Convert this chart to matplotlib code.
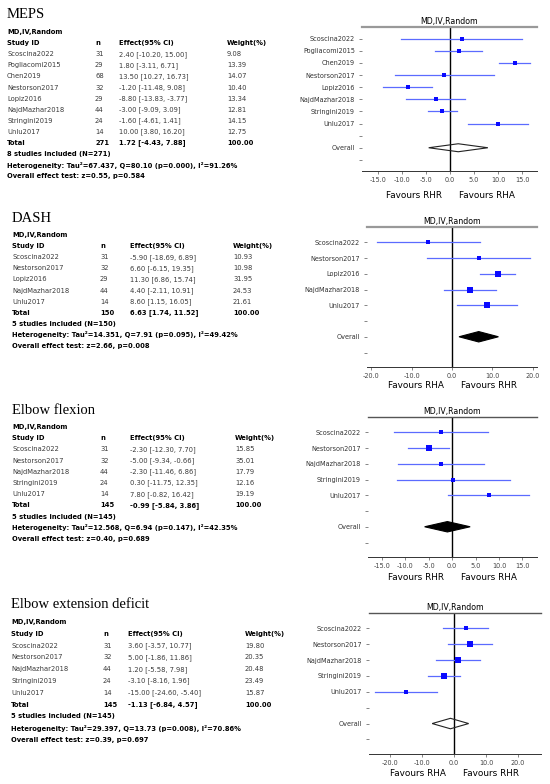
import matplotlib
matplotlib.use('Agg')

import numpy as np
import matplotlib.pyplot as plt
from matplotlib.patches import Polygon

plt.rcParams['axes.unicode_minus'] = False

W, H = 550, 784

# ---- MEPS ----
meps_study = ['Scoscina2022', 'Pogliacomi2015', 'Chen2019', 'Nestorson2017',
              'Lopiz2016', 'NajdMazhar2018', 'Stringini2019', 'Unlu2017']
meps_n = [31, 29, 68, 32, 29, 44, 24, 14]
meps_md = [2.40, 1.80, 13.50, -1.20, -8.80, -3.00, -1.60, 10.00]
meps_lo = [-10.20, -3.11, 10.27, -11.48, -13.83, -9.09, -4.61, 3.80]
meps_hi = [15.00, 6.71, 16.73, 9.08, -3.77, 3.09, 1.41, 16.20]
meps_w = [9.08, 13.39, 14.07, 10.40, 13.34, 12.81, 14.15, 12.75]
meps_total = [271, 1.72, -4.43, 7.88]      # N, MD, lower, upper
meps_het = ['67.437', '80.10', '0.000', '91.26']   # Tau2, Q, p, I2
meps_test = ['0.55', '0.584']               # z, p

# ---- DASH ----
dash_study = ['Scoscina2022', 'Nestorson2017', 'Lopiz2016', 'NajdMazhar2018', 'Unlu2017']
dash_n = [31, 32, 29, 44, 14]
dash_md = [-5.90, 6.60, 11.30, 4.40, 8.60]
dash_lo = [-18.69, -6.15, 6.86, -2.11, 1.15]
dash_hi = [6.89, 19.35, 15.74, 10.91, 16.05]
dash_w = [10.93, 10.98, 31.95, 24.53, 21.61]
dash_total = [150, 6.63, 1.74, 11.52]
dash_het = ['14.351', '7.91', '0.095', '49.42']
dash_test = ['2.66', '0.008']

# ---- Elbow flexion ----
flex_study = ['Scoscina2022', 'Nestorson2017', 'NajdMazhar2018', 'Stringini2019', 'Unlu2017']
flex_n = [31, 32, 44, 24, 14]
flex_md = [-2.30, -5.00, -2.30, 0.30, 7.80]
flex_lo = [-12.30, -9.34, -11.46, -11.75, -0.82]
flex_hi = [7.70, -0.66, 6.86, 12.35, 16.42]
flex_w = [15.85, 35.01, 17.79, 12.16, 19.19]
flex_total = [145, -0.99, -5.84, 3.86]
flex_het = ['12.568', '6.94', '0.147', '42.35']
flex_test = ['0.40', '0.689']

# ---- Elbow extension deficit ----
ext_study = ['Scoscina2022', 'Nestorson2017', 'NajdMazhar2018', 'Stringini2019', 'Unlu2017']
ext_n = [31, 32, 44, 24, 14]
ext_md = [3.60, 5.00, 1.20, -3.10, -15.00]
ext_lo = [-3.57, -1.86, -5.58, -8.16, -24.60]
ext_hi = [10.77, 11.86, 7.98, 1.96, -5.40]
ext_w = [19.80, 20.35, 20.48, 23.49, 15.87]
ext_total = [145, -1.13, -6.84, 4.57]
ext_het = ['29.397', '13.73', '0.008', '70.86']
ext_test = ['0.39', '0.697']

TXT = 'DejaVu Sans'
GRAY = '#3a3a3a'


def fx(x):
    return x / W


def fy(y):
    return 1 - y / H


def ci_text(m, a, b):
    return f'{m:.2f} [{a:.2f}, {b:.2f}]'


def draw_table(fig, title, study, n, md, lo, hi, w, total, het, test, lay):
    """Tabela da esquerda com os estudos."""
    c0, c1, c2, c3 = lay['cols']
    y = lay['y0']
    dy = lay['dy']
    fs = 4.9
    fig.text(fx(c0), fy(y - 17), title, family='Liberation Serif', fontsize=10.5,
             va='center', ha='left')
    fig.text(fx(c0), fy(y), 'MD,IV,Random', family=TXT, fontsize=fs, weight='bold', va='center')
    y += dy
    for x, s in zip(lay['cols'], ['Study ID', 'n', 'Effect(95% CI)', 'Weight(%)']):
        fig.text(fx(x), fy(y), s, family=TXT, fontsize=fs, weight='bold', va='center')
    for i in range(len(study)):
        y += dy
        vals = [study[i], str(n[i]), ci_text(md[i], lo[i], hi[i]), f'{w[i]:.2f}']
        for x, s in zip(lay['cols'], vals):
            fig.text(fx(x), fy(y), s, family=TXT, fontsize=fs, color=GRAY, va='center')
    y += dy
    vals = ['Total', str(total[0]), ci_text(total[1], total[2], total[3]), '100.00']
    for x, s in zip(lay['cols'], vals):
        fig.text(fx(x), fy(y), s, family=TXT, fontsize=fs, weight='bold', va='center')
    lines = [
        f'{len(study)} studies included (N={total[0]})',
        f'Heterogeneity: Tau\u00b2={het[0]}, Q={het[1]} (p={het[2]}), I\u00b2={het[3]}%',
        f'Overall effect test: z={test[0]}, p={test[1]}',
    ]
    for s in lines:
        y += dy
        fig.text(fx(c0), fy(y), s, family=TXT, fontsize=fs, weight='bold', va='center')


def draw_forest(fig, study, md, lo, hi, w, total, lay):
    """Forest plot da direita."""
    l, r, t, b = lay['box']
    ax = fig.add_axes([fx(l), fy(b), fx(r - l), (b - t) / H])
    k = len(study)
    for i in range(k):
        ax.plot([lo[i], hi[i]], [i, i], color='#5b6bff', lw=0.9, zorder=2)
        ax.plot(md[i], i, 's', color='#0a0aff', ms=0.8 * np.sqrt(w[i]), mew=0, zorder=3)

    yo = k + 1
    h = 0.33
    pts = [(total[2], yo), (total[1], yo - h), (total[3], yo), (total[1], yo + h)]
    if lay['filled']:
        diamond = Polygon(pts, closed=True, facecolor='black', edgecolor='black', lw=0.8, zorder=4)
    else:
        diamond = Polygon(pts, closed=True, facecolor='none', edgecolor='#222222', lw=0.8, zorder=4)
    ax.add_patch(diamond)

    ax.axvline(0, color='black', lw=1.0, zorder=1)
    ax.set_xlim(lay['xlim'])
    ax.set_ylim(k + 2 + 0.92, -0.97)
    ax.set_yticks(range(k + 3))
    ax.set_yticklabels(study + ['', 'Overall', ''])
    ax.set_xticks(lay['xticks'])
    ax.set_xticklabels([f'{v:.1f}' for v in lay['xticks']])
    ax.tick_params(axis='y', labelsize=4.7, labelcolor='#333333', length=2, width=0.5,
                   color='#555555', pad=3)
    ax.tick_params(axis='x', labelsize=4.7, labelcolor='#444444', length=2, width=0.5,
                   color='#555555', pad=2)
    for side in ['left', 'right']:
        ax.spines[side].set_visible(False)
    ax.spines['top'].set_color(lay['topc'])
    ax.spines['top'].set_linewidth(lay['topw'])
    ax.spines['bottom'].set_linewidth(0.7)
    ax.spines['bottom'].set_color('#333333')
    ax.set_title('MD,IV,Random', fontsize=5.7, family=TXT, pad=2.5)

    left_lab, right_lab = lay['favours']
    zx = l + (0 - lay['xlim'][0]) / (lay['xlim'][1] - lay['xlim'][0]) * (r - l)
    fig.text(fx(zx - 36), fy(lay['fy']), left_lab, family=TXT, fontsize=6.4, ha='center', va='center')
    fig.text(fx(zx + 37), fy(lay['fy']), right_lab, family=TXT, fontsize=6.4, ha='center', va='center')


fig = plt.figure(figsize=(5.5, 7.84), dpi=100)
fig.patch.set_facecolor('white')

panels = [
    ('MEPS', meps_study, meps_n, meps_md, meps_lo, meps_hi, meps_w, meps_total, meps_het, meps_test,
     {'cols': (7, 95, 119, 227), 'y0': 32, 'dy': 11.1},
     {'box': (362, 537, 27, 171), 'xlim': (-18.3, 18.1), 'xticks': [-15, -10, -5, 0, 5, 10, 15],
      'filled': False, 'favours': ('Favours RHR', 'Favours RHA'), 'fy': 196,
      'topc': '#999999', 'topw': 1.6}),
    ('DASH', dash_study, dash_n, dash_md, dash_lo, dash_hi, dash_w, dash_total, dash_het, dash_test,
     {'cols': (12, 100, 130, 233), 'y0': 235, 'dy': 11.1},
     {'box': (367, 537, 227, 367), 'xlim': (-21.1, 21.1), 'xticks': [-20, -10, 0, 10, 20],
      'filled': True, 'favours': ('Favours RHA', 'Favours RHR'), 'fy': 386,
      'topc': '#999999', 'topw': 1.6}),
    ('Elbow flexion', flex_study, flex_n, flex_md, flex_lo, flex_hi, flex_w, flex_total, flex_het, flex_test,
     {'cols': (12, 100, 130, 235), 'y0': 427, 'dy': 11.2},
     {'box': (368, 537, 417, 557), 'xlim': (-17.9, 18.1), 'xticks': [-15, -10, -5, 0, 5, 10, 15],
      'filled': True, 'favours': ('Favours RHR', 'Favours RHA'), 'fy': 577,
      'topc': '#555555', 'topw': 1.0}),
    ('Elbow extension deficit', ext_study, ext_n, ext_md, ext_lo, ext_hi, ext_w, ext_total, ext_het, ext_test,
     {'cols': (11, 103, 128, 245), 'y0': 622, 'dy': 11.8},
     {'box': (369, 541, 613, 754), 'xlim': (-26.6, 27.2), 'xticks': [-20, -10, 0, 10, 20],
      'filled': False, 'favours': ('Favours RHA', 'Favours RHR'), 'fy': 773,
      'topc': '#555555', 'topw': 1.0}),
]

for title, study, n, md, lo, hi, w, total, het, test, tlay, flay in panels:
    draw_table(fig, title, study, n, md, lo, hi, w, total, het, test, tlay)
    draw_forest(fig, study, md, lo, hi, w, total, flay)

fig.savefig('out.png', dpi=100, facecolor='white')
plt.close(fig)
